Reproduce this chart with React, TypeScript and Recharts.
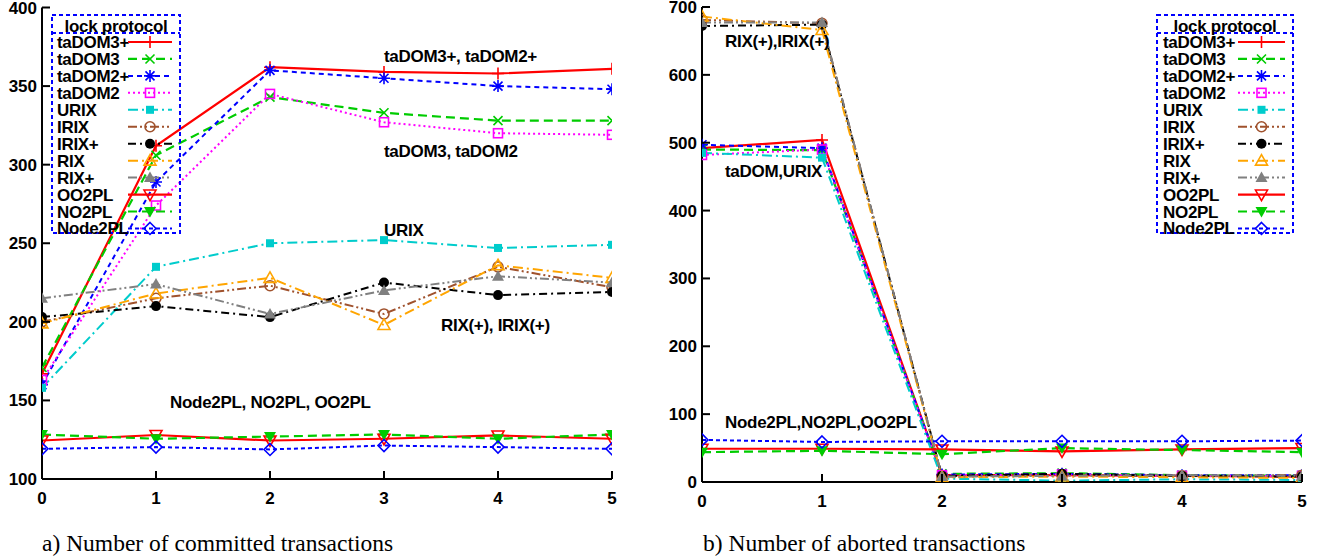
import React from 'react';
import { LineChart, Line, XAxis, YAxis, Legend } from 'recharts';

// ---------- data ----------
const xValues = [0, 1, 2, 3, 4, 5];
const protocols = ['taDOM3+', 'taDOM3', 'taDOM2+', 'taDOM2', 'URIX', 'IRIX', 'IRIX+', 'RIX', 'RIX+', 'OO2PL', 'NO2PL', 'Node2PL'];

const committedYTicks = [100, 150, 200, 250, 300, 350, 400];
const abortedYTicks = [0, 100, 200, 300, 400, 500, 600, 700];

// committed transactions
const cTaDOM3p = [167, 312, 362, 359, 358, 361];
const cTaDOM3 = [171, 306, 343, 333, 328, 328];
const cTaDOM2p = [160, 289, 360, 355, 350, 348];
const cTaDOM2 = [163, 274, 345, 327, 320, 319];
const cURIX = [158, 235, 250, 252, 247, 249];
const cIRIX = [200, 215, 223, 205, 235, 222];
const cIRIXp = [203, 210, 203, 225, 217, 219];
const cRIX = [199, 218, 228, 198, 236, 228];
const cRIXp = [215, 224, 205, 220, 229, 225];
const cOO2PL = [124.5, 128, 124.5, 125.6, 127.7, 125.6];
const cNO2PL = [128.3, 125.6, 127, 128.3, 125.6, 128.3];
const cNode2PL = [119.2, 120.3, 118.8, 121.3, 120.3, 119.2];

// aborted transactions
const aTaDOM3p = [492, 504, 10, 10, 9, 8];
const aTaDOM3 = [490, 489, 12, 13, 10, 9];
const aTaDOM2p = [497, 492, 11, 12, 10, 10];
const aTaDOM2 = [482, 490, 10, 11, 9, 9];
const aURIX = [485, 478, 5, 2, 4, 3];
const aIRIX = [681, 676, 8, 10, 9, 10];
const aIRIXp = [672, 674, 9, 12, 9, 8];
const aRIX = [686, 666, 7, 8, 7, 6];
const aRIXp = [677, 677, 8, 9, 10, 9];
const aOO2PL = [49, 49, 48, 45, 48, 50];
const aNO2PL = [44, 46, 41, 50, 47, 44];
const aNode2PL = [62, 59, 60, 60, 60, 61];

const committedSeries = [cTaDOM3p, cTaDOM3, cTaDOM2p, cTaDOM2, cURIX, cIRIX, cIRIXp, cRIX, cRIXp, cOO2PL, cNO2PL, cNode2PL];
const abortedSeries = [aTaDOM3p, aTaDOM3, aTaDOM2p, aTaDOM2, aURIX, aIRIX, aIRIXp, aRIX, aRIXp, aOO2PL, aNO2PL, aNode2PL];

const buildRows = (series: number[][]) =>
  xValues.map((x, i) => {
    const row: Record<string, number> = { x };
    protocols.forEach((p, k) => {
      row[p] = series[k][i];
    });
    return row;
  });

const committedData = buildRows(committedSeries);
const abortedData = buildRows(abortedSeries);

// ---------- styles ----------
type MarkerType =
  | 'plus' | 'cross' | 'star' | 'openSquare' | 'filledSquare' | 'openCircle' | 'filledCircle'
  | 'openTri' | 'filledTri' | 'openTriDown' | 'filledTriDown' | 'openDiamond';

const STYLE: Record<string, { color: string; dash?: string; width: number; marker: MarkerType }> = {
  'taDOM3+': { color: '#ff0000', width: 2.2, marker: 'plus' },
  'taDOM3': { color: '#00cc00', dash: '9 5', width: 2.2, marker: 'cross' },
  'taDOM2+': { color: '#0000ff', dash: '5 4', width: 2, marker: 'star' },
  'taDOM2': { color: '#ff00ff', dash: '2 3', width: 2, marker: 'openSquare' },
  'URIX': { color: '#00cccc', dash: '10 4 2 4', width: 2, marker: 'filledSquare' },
  'IRIX': { color: '#a0522d', dash: '9 3 2 3 2 3', width: 2, marker: 'openCircle' },
  'IRIX+': { color: '#000000', dash: '8 4 2 4', width: 2, marker: 'filledCircle' },
  'RIX': { color: '#ffa500', dash: '10 4 2 4', width: 2, marker: 'openTri' },
  'RIX+': { color: '#808080', dash: '9 3 2 3 2 3', width: 2, marker: 'filledTri' },
  'OO2PL': { color: '#ff0000', width: 2.2, marker: 'openTriDown' },
  'NO2PL': { color: '#00cc00', dash: '9 5', width: 2.2, marker: 'filledTriDown' },
  'Node2PL': { color: '#0000ff', dash: '4 3', width: 2, marker: 'openDiamond' },
};

const FONT = '"Liberation Sans", Arial, Helvetica, sans-serif';

function Marker({ cx, cy, type, color }: { cx: number; cy: number; type: MarkerType; color: string }) {
  if (cx == null || cy == null || isNaN(cx) || isNaN(cy)) return <g />;
  const sw = 1.6;
  switch (type) {
    case 'plus':
      return <path d={`M${cx - 6},${cy}H${cx + 6}M${cx},${cy - 6}V${cy + 6}`} stroke={color} strokeWidth={sw} fill="none" />;
    case 'cross':
      return <path d={`M${cx - 4.5},${cy - 4.5}L${cx + 4.5},${cy + 4.5}M${cx - 4.5},${cy + 4.5}L${cx + 4.5},${cy - 4.5}`} stroke={color} strokeWidth={sw} fill="none" />;
    case 'star':
      return (
        <path
          d={`M${cx - 6},${cy}H${cx + 6}M${cx},${cy - 6}V${cy + 6}M${cx - 4.5},${cy - 4.5}L${cx + 4.5},${cy + 4.5}M${cx - 4.5},${cy + 4.5}L${cx + 4.5},${cy - 4.5}`}
          stroke={color}
          strokeWidth={sw}
          fill="none"
        />
      );
    case 'openSquare':
      return <rect x={cx - 4.5} y={cy - 4.5} width={9} height={9} stroke={color} strokeWidth={sw} fill="none" />;
    case 'filledSquare':
      return <rect x={cx - 4} y={cy - 4} width={8} height={8} fill={color} />;
    case 'openCircle':
      return <circle cx={cx} cy={cy} r={5} stroke={color} strokeWidth={sw} fill="none" />;
    case 'filledCircle':
      return <circle cx={cx} cy={cy} r={5} fill={color} />;
    case 'openTri':
      return <polygon points={`${cx},${cy - 6} ${cx + 6},${cy + 4.5} ${cx - 6},${cy + 4.5}`} stroke={color} strokeWidth={sw} fill="none" />;
    case 'filledTri':
      return <polygon points={`${cx},${cy - 6} ${cx + 6},${cy + 4.5} ${cx - 6},${cy + 4.5}`} fill={color} />;
    case 'openTriDown':
      return <polygon points={`${cx - 6},${cy - 4.5} ${cx + 6},${cy - 4.5} ${cx},${cy + 6}`} stroke={color} strokeWidth={sw} fill="none" />;
    case 'filledTriDown':
      return <polygon points={`${cx - 6},${cy - 4.5} ${cx + 6},${cy - 4.5} ${cx},${cy + 6}`} fill={color} />;
    case 'openDiamond':
      return <polygon points={`${cx},${cy - 6} ${cx + 6},${cy} ${cx},${cy + 6} ${cx - 6},${cy}`} stroke={color} strokeWidth={sw} fill="none" />;
    default:
      return <g />;
  }
}

// ---------- ticks ----------
const TICK_LEN = 8;
const labelStyle = { fontFamily: FONT, fontWeight: 700, fontSize: 17, fill: '#000' } as const;

const BottomTick = (p: any) => (
  <g>
    <line x1={p.x} y1={p.y} x2={p.x} y2={p.y - TICK_LEN} stroke="#000" strokeWidth={2} />
    <text x={p.x} y={p.y + 25} textAnchor="middle" style={labelStyle}>
      {p.payload.value}
    </text>
  </g>
);
const TopTick = (p: any) => (
  <line x1={p.x} y1={p.y} x2={p.x} y2={p.y + TICK_LEN} stroke="#000" strokeWidth={2} />
);
const LeftTick = (p: any) => (
  <g>
    <line x1={p.x} y1={p.y} x2={p.x + TICK_LEN} y2={p.y} stroke="#000" strokeWidth={2} />
    <text x={p.x - 5} y={p.y + 6} textAnchor="end" style={labelStyle}>
      {p.payload.value}
    </text>
  </g>
);
const RightTick = (p: any) => (
  <line x1={p.x} y1={p.y} x2={p.x - TICK_LEN} y2={p.y} stroke="#000" strokeWidth={2} />
);

// ---------- legend ----------
type Box = { x: number; y: number; w: number; h: number; textX: number; lineX1: number; lineX2: number };

const makeLegend = (box: Box, chartLeft: number) => () => {
  const ox = box.x - 2;
  const oy = box.y - 2;
  const L = (v: number) => v - ox;
  const T = (v: number) => v - oy;
  const dash = { stroke: '#0000ff', strokeWidth: 2, strokeDasharray: '4 3', fill: 'none' };
  return (
    <svg width={box.w + 4} height={box.h + 4} style={{ display: 'block', overflow: 'visible' }}>
      <rect x={L(box.x)} y={T(box.y)} width={box.w} height={box.h} {...dash} />
      <line x1={L(box.x)} y1={T(box.y + 18)} x2={L(box.x + box.w)} y2={T(box.y + 18)} {...dash} />
      <text x={L(box.x + box.w / 2)} y={T(box.y + 16.5)} textAnchor="middle" style={{ ...labelStyle, letterSpacing: -0.3 }}>
        lock protocol
      </text>
      {protocols.map((p, i) => {
        const cy = T(42 + i * 16.95);
        const s = STYLE[p];
        const mid = (box.lineX1 + box.lineX2) / 2;
        return (
          <g key={p}>
            <text x={L(box.textX)} y={cy + 6} style={{ ...labelStyle, letterSpacing: -0.3 }}>
              {p}
            </text>
            <line x1={L(box.lineX1)} y1={cy} x2={L(box.lineX2)} y2={cy} stroke={s.color} strokeWidth={s.width} strokeDasharray={s.dash} />
            <Marker cx={L(mid)} cy={cy} type={s.marker} color={s.color} />
          </g>
        );
      })}
    </svg>
  );
};

// ---------- panel ----------
type PanelProps = {
  data: Record<string, number>[];
  yDomain: [number, number];
  yTicks: number[];
  left: number;
  width: number;
  height: number;
  top: number;
  right: number;
  xAxisHeight: number;
  legendBox: Box;
};

function Panel({ data, yDomain, yTicks, left, width, height, top, right, xAxisHeight, legendBox }: PanelProps) {
  const axisLine = { stroke: '#000', strokeWidth: 2 };
  return (
    <div style={{ position: 'absolute', left, top: 0, width, height }}>
      <LineChart width={width} height={height} data={data} margin={{ top, right, bottom: 0, left: 0 }}>
        <XAxis
          dataKey="x"
          type="number"
          domain={[0, 5]}
          ticks={xValues}
          interval={0}
          allowDataOverflow
          height={xAxisHeight}
          tickSize={0}
          tickMargin={0}
          tickLine={false}
          axisLine={axisLine}
          tick={BottomTick}
        />
        <XAxis
          xAxisId="top"
          dataKey="x"
          type="number"
          orientation="top"
          domain={[0, 5]}
          ticks={xValues}
          interval={0}
          allowDataOverflow
          height={0}
          tickSize={0}
          tickMargin={0}
          tickLine={false}
          axisLine={axisLine}
          tick={TopTick}
        />
        <YAxis
          type="number"
          domain={yDomain}
          ticks={yTicks}
          interval={0}
          allowDataOverflow
          width={42}
          tickSize={0}
          tickMargin={0}
          tickLine={false}
          axisLine={axisLine}
          tick={LeftTick}
        />
        <YAxis
          yAxisId="right"
          type="number"
          orientation="right"
          domain={yDomain}
          ticks={yTicks}
          interval={0}
          allowDataOverflow
          width={0}
          tickSize={0}
          tickMargin={0}
          tickLine={false}
          axisLine={axisLine}
          tick={RightTick}
        />
        <Legend
          layout="vertical"
          align="center"
          verticalAlign="middle"
          content={makeLegend(legendBox, left)}
          wrapperStyle={{ position: 'absolute', left: legendBox.x - 2 - left, top: legendBox.y - 2, width: legendBox.w + 4, height: legendBox.h + 4 }}
        />
        {protocols.map((p) => {
          const s = STYLE[p];
          return (
            <Line
              key={p}
              type="linear"
              dataKey={p}
              name={p}
              stroke={s.color}
              strokeWidth={s.width}
              strokeDasharray={s.dash}
              isAnimationActive={false}
              activeDot={false}
              dot={(d: any) => <Marker key={`${p}-${d.index}`} cx={d.cx} cy={d.cy} type={s.marker} color={s.color} />}
            />
          );
        })}
      </LineChart>
    </div>
  );
}

const annStyle: React.CSSProperties = {
  position: 'absolute',
  fontFamily: FONT,
  fontWeight: 700,
  fontSize: 17,
  letterSpacing: -0.3,
  lineHeight: '20px',
  color: '#000',
  whiteSpace: 'nowrap',
};

const Ann = ({ x, y, children }: { x: number; y: number; children: React.ReactNode }) => (
  <div style={{ ...annStyle, left: x, top: y - 10 }}>{children}</div>
);

const captionStyle: React.CSSProperties = {
  position: 'absolute',
  fontFamily: '"Liberation Serif", "Times New Roman", serif',
  fontSize: 23.5,
  lineHeight: '28px',
  color: '#000',
  whiteSpace: 'nowrap',
};

export default function App() {
  return (
    <div style={{ position: 'absolute', left: 0, top: 0, width: 1322, height: 558, background: '#fff', overflow: 'hidden' }}>
      <Panel
        data={committedData}
        yDomain={[100, 400]}
        yTicks={committedYTicks}
        left={0}
        width={660}
        height={520}
        top={7.5}
        right={48}
        xAxisHeight={41}
        legendBox={{ x: 52, y: 15, w: 128, h: 218, textX: 57, lineX1: 128, lineX2: 172 }}
      />
      <Panel
        data={abortedData}
        yDomain={[0, 700]}
        yTicks={abortedYTicks}
        left={660}
        width={662}
        height={520}
        top={7}
        right={20}
        xAxisHeight={38}
        legendBox={{ x: 1157, y: 15, w: 136, h: 218, textX: 1163, lineX1: 1238, lineX2: 1285 }}
      />
      <Ann x={384} y={57}>taDOM3+, taDOM2+</Ann>
      <Ann x={384} y={152}>taDOM3, taDOM2</Ann>
      <Ann x={384} y={231}>URIX</Ann>
      <Ann x={441} y={326}>RIX(+), IRIX(+)</Ann>
      <Ann x={170} y={403}>Node2PL, NO2PL, OO2PL</Ann>
      <Ann x={725} y={42}>RIX(+),IRIX(+)</Ann>
      <Ann x={725} y={172}>taDOM,URIX</Ann>
      <Ann x={725} y={423}>Node2PL,NO2PL,OO2PL</Ann>
      <div style={{ ...captionStyle, left: 42, top: 529 }}>a) Number of committed transactions</div>
      <div style={{ ...captionStyle, left: 703, top: 529 }}>b) Number of aborted transactions</div>
    </div>
  );
}
